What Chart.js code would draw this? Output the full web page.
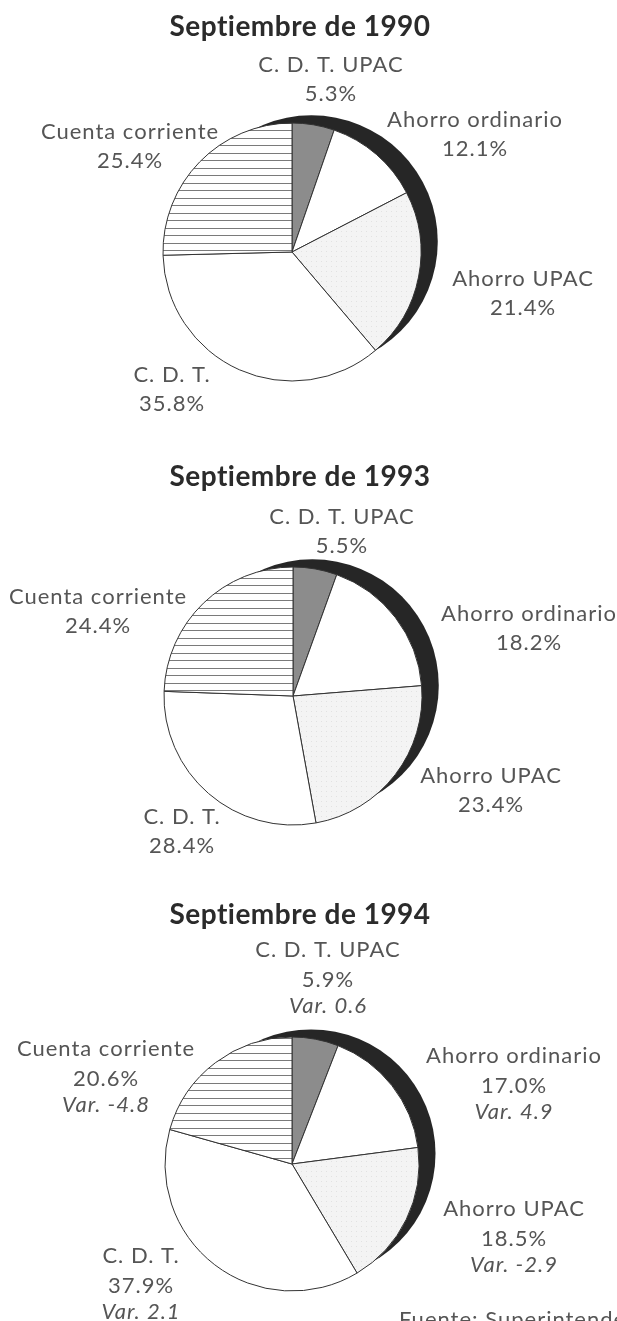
<!DOCTYPE html>
<html>
<head>
<meta charset="utf-8">
<script src="https://cdn.jsdelivr.net/npm/chart.js@4/dist/chart.umd.min.js"></script>
<style>
  body { margin: 0; background: #fff; }
  #hoja { position: relative; width: 617px; height: 1321px; overflow: hidden; background: #fff; }
  #hoja canvas { position: absolute; left: 0; }
</style>
</head>
<body>
<div id="hoja">
  <canvas id="torta1990" width="617" height="440" style="top:0"></canvas>
  <canvas id="torta1993" width="617" height="430" style="top:440px"></canvas>
  <canvas id="torta1994" width="617" height="451" style="top:870px"></canvas>
</div>
<script>
// datos
const categorias = ['C. D. T. UPAC', 'Ahorro ordinario', 'Ahorro UPAC', 'C. D. T.', 'Cuenta corriente'];
const titulos = ['Septiembre de 1990', 'Septiembre de 1993', 'Septiembre de 1994'];
const sep1990 = [5.3, 12.1, 21.4, 35.8, 25.4];
const sep1993 = [5.5, 18.2, 23.4, 28.4, 24.4];
const sep1994 = [5.9, 17.0, 18.5, 37.9, 20.6];
const var1994 = [0.6, 4.9, -2.9, 2.1, -4.8];
const fuente = 'Fuente: Superintendencia Bancaria';

// rellenos
function rayado() {
  const c = document.createElement('canvas');
  c.width = 4; c.height = 15;
  const g = c.getContext('2d');
  g.fillStyle = '#fff';
  g.fillRect(0, 0, 4, 15);
  g.fillStyle = '#7a7a7a';
  g.fillRect(0, 3, 4, 1);
  g.fillRect(0, 10, 4, 1);
  return g.createPattern(c, 'repeat');
}

function punteado() {
  const c = document.createElement('canvas');
  c.width = 5; c.height = 5;
  const g = c.getContext('2d');
  g.fillStyle = '#f4f4f4';
  g.fillRect(0, 0, 5, 5);
  g.fillStyle = '#e2e2e2';
  g.fillRect(1, 1, 1, 1);
  return g.createPattern(c, 'repeat');
}

const rellenos = ['#8c8c8c', '#ffffff', punteado(), '#ffffff', rayado()];

const letra = 'Lato, "Open Sans", sans-serif';

// sombra negra detras de la torta
const sombra = {
  id: 'sombra',
  beforeDatasetsDraw(chart) {
    const arc = chart.getDatasetMeta(0).data[0];
    const r = arc.outerRadius;
    const ctx = chart.ctx;
    ctx.save();
    ctx.fillStyle = '#262626';
    ctx.beginPath();
    ctx.arc(arc.x + 0.15 * r, arc.y - 0.08 * r, 0.98 * r, 0, Math.PI * 2);
    ctx.fill();
    ctx.restore();
  }
};

// titulo y rotulos de cada torta
function rotulos(cfg) {
  return {
    id: 'rotulos',
    afterDraw(chart) {
      const ctx = chart.ctx;
      const arc = chart.getDatasetMeta(0).data[0];
      const valores = chart.data.datasets[0].data;
      ctx.save();
      ctx.textAlign = 'center';
      ctx.textBaseline = 'middle';

      ctx.fillStyle = '#2b2b2b';
      ctx.letterSpacing = '0.5px';
      ctx.font = 'bold 28px ' + letra;
      ctx.fillText(cfg.titulo, cfg.tituloX, cfg.tituloY);

      ctx.fillStyle = '#555';
      ctx.letterSpacing = '1px';
      chart.data.labels.forEach((lab, i) => {
        const x = arc.x + cfg.pos[i][0];
        let y = arc.y + cfg.pos[i][1];
        ctx.font = '22px ' + letra;
        ctx.fillText(lab, x, y);
        y += cfg.paso;
        ctx.fillText(valores[i].toFixed(1) + '%', x, y);
        if (cfg.variacion) {
          y += cfg.pasoVar;
          ctx.font = 'italic 22px ' + letra;
          ctx.fillText('Var. ' + cfg.variacion[i].toFixed(1), x, y);
        }
      });

      if (cfg.fuente) {
        ctx.textAlign = 'left';
        ctx.textBaseline = 'alphabetic';
        ctx.font = '22px ' + letra;
        ctx.fillText(cfg.fuente, 399, chart.height + 6);
      }
      ctx.restore();
    }
  };
}

function crearTorta(id, valores, radio, padding, cfg) {
  new Chart(document.getElementById(id), {
    type: 'pie',
    data: {
      labels: categorias,
      datasets: [{
        data: valores,
        backgroundColor: rellenos,
        borderColor: '#333',
        borderWidth: 1,
        radius: radio
      }]
    },
    options: {
      responsive: false,
      animation: false,
      events: [],
      layout: { padding: padding },
      plugins: {
        legend: { display: false },
        tooltip: { enabled: false }
      }
    },
    plugins: [sombra, rotulos(cfg)]
  });
}

crearTorta('torta1990', sep1990, 129, { left: 0, right: 33, top: 64, bottom: 0 }, {
  titulo: titulos[0], tituloX: 300, tituloY: 27, paso: 29,
  pos: [[39, -187], [183, -132], [231, 27], [-120, 123], [-162, -120]]
});

crearTorta('torta1993', sep1993, 129, { left: 0, right: 31, top: 82, bottom: 0 }, {
  titulo: titulos[1], tituloX: 300, tituloY: 37, paso: 29,
  pos: [[49, -179], [236, -82], [198, 80], [-111, 121], [-195, -99]]
});

crearTorta('torta1994', sep1994, 127, { left: 0, right: 33, top: 137, bottom: 0 }, {
  titulo: titulos[2], tituloX: 300, tituloY: 45, paso: 29.5, pasoVar: 26,
  pos: [[36, -214], [222, -108], [222, 45], [-151, 92], [-186, -115]],
  variacion: var1994,
  fuente: fuente
});
</script>
</body>
</html>
